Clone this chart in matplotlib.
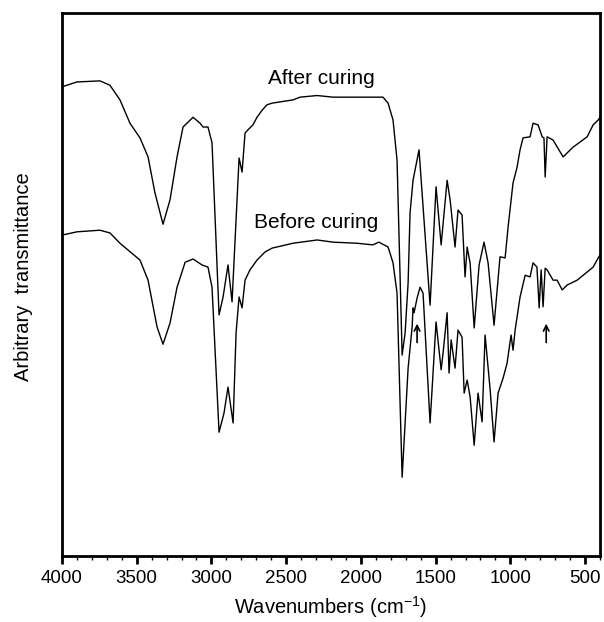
import numpy as np
import matplotlib
matplotlib.use('Agg')
import matplotlib.pyplot as plt
from matplotlib.ticker import MultipleLocator, NullLocator

plt.rcParams['font.family'] = ['Liberation Sans', 'DejaVu Sans']

# FTIR spectra (wavenumber in cm-1, arbitrary transmittance 0-100)
wn_after = [4000, 3900, 3746, 3679, 3612, 3545, 3478, 3424, 3378, 3324, 3277, 3230,
            3190, 3123, 3076, 3056, 3023, 2996, 2949, 2922, 2889, 2862, 2815, 2795,
            2775, 2755, 2722, 2695, 2661, 2628, 2594, 2454, 2407, 2293, 2186, 2026,
            1852, 1818, 1785, 1758, 1724, 1704, 1684, 1671, 1651, 1611, 1537, 1497,
            1463, 1423, 1403, 1370, 1350, 1323, 1303, 1289, 1269, 1242, 1209, 1176,
            1149, 1109, 1069, 1035, 1015, 982, 955, 935, 915, 868, 848, 814, 787,
            775, 767, 754, 714, 647, 580, 486, 446, 412, 400]
t_after = [86.4, 87.3, 87.5, 86.7, 84.0, 79.7, 77.0, 73.5, 66.9, 61.1, 65.6, 73.5,
           79.0, 80.8, 79.7, 79.0, 79.0, 76.1, 44.4, 47.7, 53.6, 46.8, 73.3, 70.7,
           77.9, 78.5, 79.4, 80.8, 82.1, 83.1, 83.4, 84.0, 84.5, 84.8, 84.5, 84.5,
           84.5, 83.4, 80.3, 72.9, 37.0, 41.1, 50.3, 63.2, 69.2, 74.8, 46.2, 68.0,
           57.3, 69.2, 65.6, 56.9, 63.7, 62.8, 51.4, 56.9, 53.9, 42.0, 53.6, 57.8,
           54.0, 42.5, 55.1, 54.9, 60.6, 68.7, 71.6, 74.8, 77.0, 77.2, 79.7, 79.4,
           77.2, 77.0, 69.8, 77.2, 76.6, 73.5, 75.3, 77.2, 79.4, 80.3, 80.8]

wn_before = [4000, 3900, 3746, 3679, 3612, 3478, 3424, 3364, 3324, 3277, 3230, 3176,
             3123, 3063, 3023, 2996, 2949, 2916, 2889, 2855, 2835, 2815, 2795, 2775,
             2742, 2695, 2641, 2594, 2454, 2293, 2186, 2026, 1920, 1880, 1818, 1785,
             1758, 1724, 1684, 1657, 1651, 1644, 1624, 1604, 1584, 1537, 1497, 1463,
             1450, 1423, 1410, 1396, 1370, 1350, 1323, 1309, 1289, 1269, 1242, 1216,
             1189, 1169, 1135, 1109, 1082, 1048, 1022, 995, 982, 968, 935, 901, 868,
             848, 822, 807, 794, 781, 767, 754, 714, 687, 653, 620, 553, 486, 446,
             412, 400]
t_before = [59.1, 59.7, 60.0, 59.5, 57.6, 54.5, 50.8, 42.2, 39.0, 42.9, 49.5, 54.1,
            54.7, 53.6, 53.2, 49.5, 22.8, 26.3, 31.1, 24.5, 41.1, 47.7, 45.7, 50.8,
            52.7, 54.5, 56.0, 56.7, 57.6, 58.2, 57.8, 57.6, 57.3, 57.8, 56.9, 54.0,
            48.4, 14.5, 34.6, 42.2, 45.7, 44.8, 47.5, 49.5, 48.4, 24.5, 43.1, 34.3,
            37.4, 44.8, 33.7, 39.8, 34.6, 41.6, 40.3, 30.0, 32.4, 29.3, 20.4, 30.0,
            24.7, 40.7, 30.6, 21.0, 30.0, 32.8, 35.5, 40.7, 37.9, 41.6, 47.7, 51.7,
            51.4, 54.0, 53.2, 45.7, 52.7, 45.9, 53.0, 52.7, 50.8, 50.8, 49.0, 49.9,
            50.8, 52.3, 53.2, 54.9, 55.4]

labels = ['After curing', 'Before curing']
label_pos = [(2266, 88.0), (2300, 61.5)]
arrow_wn = [1624, 760]

fig = plt.figure(figsize=(6.04, 6.22), dpi=100)
ax = fig.add_axes([0.1026, 0.1061, 0.8908, 0.873])

ax.plot(wn_after, t_after, color='black', lw=1.0)
ax.plot(wn_before, t_before, color='black', lw=1.0)

for txt, (x, y) in zip(labels, label_pos):
    ax.text(x, y, txt, fontsize=15, ha='center', va='center')

# arrows marking the bands that disappear on curing
for w in arrow_wn:
    ax.annotate('', xy=(w, 43.3), xytext=(w, 38.8),
                arrowprops=dict(arrowstyle='->', lw=1.2, color='black'))

ax.set_xlim(4000, 400)
ax.set_ylim(0, 100)
ax.xaxis.set_major_locator(MultipleLocator(500))
ax.xaxis.set_minor_locator(MultipleLocator(100))
ax.yaxis.set_major_locator(NullLocator())
ax.tick_params(axis='x', which='major', direction='out', length=6, width=2, labelsize=13.5, pad=4)
ax.tick_params(axis='x', which='minor', direction='out', length=3, width=1)

for s in ax.spines.values():
    s.set_linewidth(2)

ax.set_xlabel('Wavenumbers (cm$^{\\mathregular{-1}}$)', fontsize=14.5, labelpad=5)
ax.set_ylabel('Arbitrary  transmittance', fontsize=14.5)
ax.yaxis.set_label_coords(-0.054, 0.514)

fig.savefig('out.png', dpi=100)
